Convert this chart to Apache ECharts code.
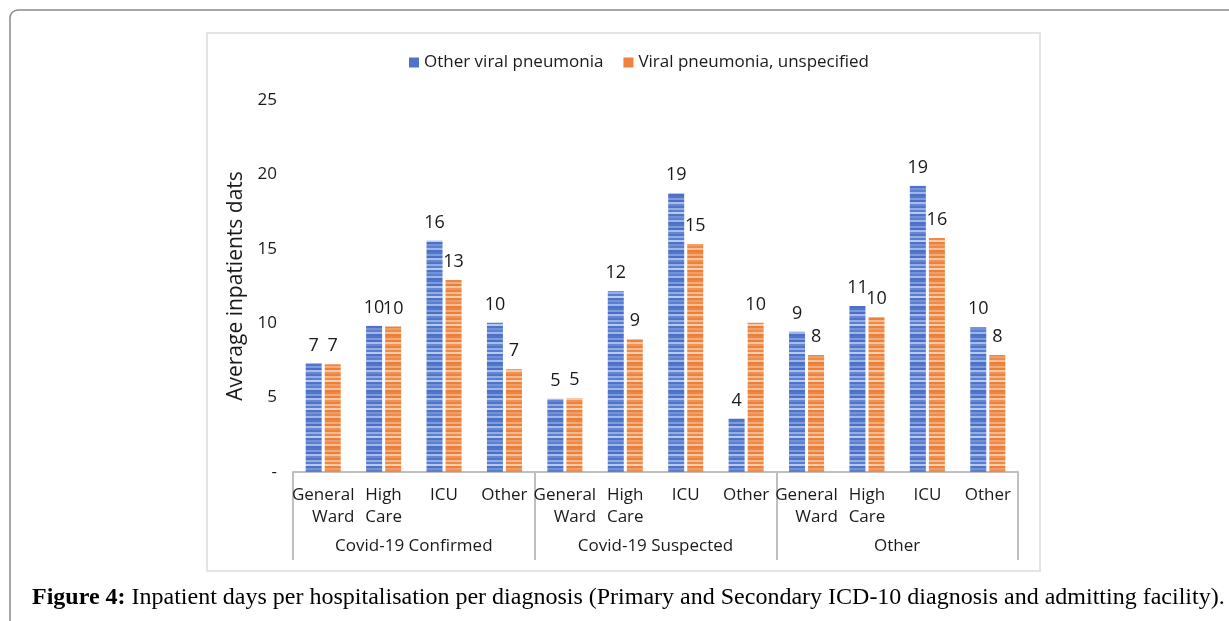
<!DOCTYPE html>
<html>
<head>
<meta charset="utf-8">
<script src="https://cdn.jsdelivr.net/npm/echarts@6/dist/echarts.min.js"></script>
<style>
  html, body { margin: 0; padding: 0; background: #fff; }
  #chart { width: 1229px; height: 621px; }
</style>
</head>
<body>
<div id="chart"></div>
<script>
// data
var subCats = ['General\nWard', 'High\nCare', 'ICU', 'Other',
               'General\nWard', 'High\nCare', 'ICU', 'Other',
               'General\nWard', 'High\nCare', 'ICU', 'Other'];
var groups = ['Covid-19 Confirmed', 'Covid-19 Suspected', 'Other'];
var otherViral = [7.3, 9.83, 15.55, 10.03, 4.93, 12.14, 18.73, 3.58, 9.43, 11.16, 19.24, 9.72];
var viralUnspec = [7.24, 9.77, 12.9, 6.9, 4.97, 8.92, 15.32, 10.03, 7.86, 10.4, 15.73, 7.86];
var yTicks = ['-', '5', '10', '15', '20', '25'];

var textColor = '#1a1a1a';
var font = 'Open Sans';

// striped fill like the original bars
function stripes(shades) {
    var c = document.createElement('canvas');
    c.width = 4;
    c.height = shades.length * 2;
    var ctx = c.getContext('2d');
    for (var i = 0; i < shades.length; i++) {
        ctx.fillStyle = shades[i];
        ctx.fillRect(0, i * 2, 4, 2);
    }
    return {image: c, repeat: 'repeat'};
}
var blueFill = stripes(['#5277c9', '#7c9be0', '#4a6fc4', '#a9bdea', '#6587d4', '#4f74c8', '#93aee6',
                        '#5a7ecd', '#b8caef', '#4e72c6', '#7191da', '#5c80ce', '#9fb6e8', '#4c70c5']);
var orangeFill = stripes(['#ed8643', '#f3ab7a', '#ec7f39', '#f7c6a2', '#ef9456', '#ed823c', '#f5b98e',
                          '#ee8a48', '#f8cfae', '#ec803a', '#f19e66', '#ee8b4a', '#f6c09a', '#ec7e38']);

var chart = echarts.init(document.getElementById('chart'));

var labelOpt = {
    show: true,
    position: 'top',
    distance: 9,
    fontSize: 18,
    fontFamily: font,
    color: textColor,
    formatter: function (p) { return Math.round(p.value); }
};

var option = {
    backgroundColor: '#fff',
    animation: false,
    legend: {
        top: 49,
        left: 404,
        data: [
            {name: 'Other viral pneumonia', itemStyle: {color: '#4f74c8'}},
            {name: 'Viral pneumonia, unspecified', itemStyle: {color: '#ee8340'}}
        ],
        icon: 'rect',
        itemWidth: 10,
        itemHeight: 10,
        itemGap: 20,
        textStyle: {fontSize: 17, fontFamily: font, color: textColor}
    },
    grid: {left: 293, right: 211, top: 100, bottom: 149},
    xAxis: [
        {
            type: 'category',
            data: subCats,
            axisLine: {lineStyle: {color: '#bfbfbf', width: 2}},
            axisTick: {show: false},
            axisLabel: {
                interval: 0,
                margin: 12,
                fontSize: 17,
                fontFamily: font,
                color: textColor,
                lineHeight: 22,
                formatter: function (v) {
                    var key = v.indexOf('General') === 0 ? 'r' : (v.indexOf('High') === 0 ? 'l' : 'c');
                    return v.split('\n').map(function (s) { return '{' + key + '|' + s + '}'; }).join('\n');
                },
                rich: {
                    r: {align: 'right', fontSize: 17, fontFamily: font, color: textColor, lineHeight: 22},
                    l: {align: 'left', fontSize: 17, fontFamily: font, color: textColor, lineHeight: 22},
                    c: {align: 'center', fontSize: 17, fontFamily: font, color: textColor, lineHeight: 22}
                }
            }
        },
        {
            type: 'category',
            position: 'bottom',
            data: groups,
            axisLine: {show: false},
            axisTick: {show: true, length: 88, lineStyle: {color: '#bfbfbf', width: 2}},
            axisLabel: {margin: 66, fontSize: 17, fontFamily: font, color: textColor}
        }
    ],
    yAxis: {
        type: 'value',
        min: 0,
        max: 25,
        interval: 5,
        name: 'Average inpatients dats',
        nameLocation: 'middle',
        nameGap: 45,
        nameRotate: 90,
        nameTextStyle: {fontSize: 21, fontFamily: font, color: textColor},
        axisLine: {show: false},
        axisTick: {show: false},
        splitLine: {show: false},
        axisLabel: {
            margin: 16,
            fontSize: 17,
            fontFamily: font,
            color: textColor,
            formatter: function (v) { return yTicks[v / 5]; }
        }
    },
    series: [
        {
            name: 'Other viral pneumonia',
            type: 'bar',
            data: otherViral,
            barWidth: 16,
            barGap: '19%',
            itemStyle: {color: blueFill},
            label: labelOpt
        },
        {
            name: 'Viral pneumonia, unspecified',
            type: 'bar',
            data: viralUnspec,
            barWidth: 16,
            itemStyle: {color: orangeFill},
            label: labelOpt
        }
    ],
    graphic: [
        {
            type: 'rect',
            silent: true,
            z: -10,
            shape: {x: 10, y: 10, width: 1240, height: 640, r: 8},
            style: {fill: 'none', stroke: '#8a8a8a', lineWidth: 1.5}
        },
        {
            type: 'rect',
            silent: true,
            z: -9,
            shape: {x: 207, y: 33, width: 833, height: 538},
            style: {fill: 'none', stroke: '#e4e4e4', lineWidth: 2}
        },
        {
            type: 'text',
            left: 32,
            top: 586,
            style: {
                text: '{b|Figure 4:} Inpatient days per hospitalisation per diagnosis (Primary and Secondary ICD-10 diagnosis and admitting facility).',
                font: '24px "Liberation Serif"',
                fill: '#000',
                rich: {
                    b: {fontWeight: 'bold', fontSize: 24, fontFamily: 'Liberation Serif', fill: '#000'}
                }
            }
        }
    ]
};

chart.setOption(option);
</script>
</body>
</html>
